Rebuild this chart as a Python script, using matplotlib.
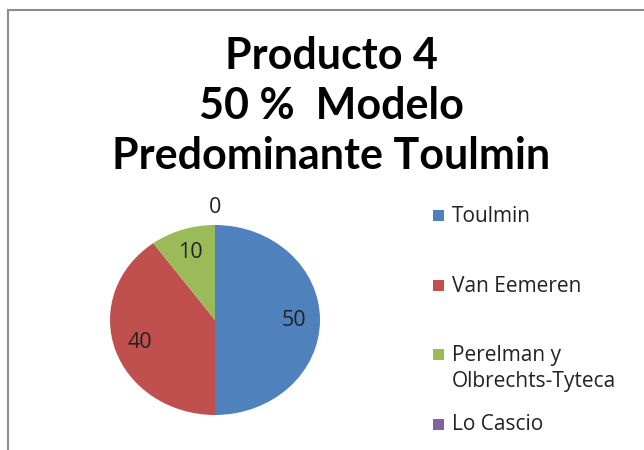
import numpy as np
import matplotlib
matplotlib.use("Agg")
import matplotlib.pyplot as plt
from matplotlib.patches import Rectangle
from matplotlib.lines import Line2D

# chart data
categories = ["Toulmin", "Van Eemeren", "Perelman y\nOlbrechts-Tyteca", "Lo Cascio"]
values = [50, 40, 10, 0]
colors = ["#4F81BD", "#C0504D", "#9BBB59", "#8064A2"]
title = "Producto 4\n50 %  Modelo\nPredominante Toulmin"

W, H = 644, 450
fig = plt.figure(figsize=(W / 100, H / 100), dpi=100)
plt.rcParams['font.family'] = ['Lato', 'DejaVu Sans']

# chart border (left and top visible)
fig.add_artist(Line2D([8 / W, 8 / W], [0, 1 - 10 / H], transform=fig.transFigure,
                      color="#8c8c8c", lw=1.5))
fig.add_artist(Line2D([8 / W, 1], [1 - 10 / H, 1 - 10 / H], transform=fig.transFigure,
                      color="#8c8c8c", lw=1.5))

fig.text(331 / W, 1 - 106 / H, title, ha="center", va="center", fontsize=31,
         fontweight="bold", linespacing=1.3)

# pie (slightly stretched like the original)
cx, cy, rx, ry = 215, 320, 105, 95
ax = fig.add_axes([(cx - rx) / W, 1 - (cy + ry) / H, 2 * rx / W, 2 * ry / H])
wedges, _ = ax.pie(values, colors=colors, startangle=90, counterclock=False,
                   wedgeprops=dict(linewidth=0))
ax.set_aspect("auto")
ax.set_xlim(-1, 1)
ax.set_ylim(-1, 1)
ax.axis("off")

for w, v in zip(wedges, values):
    ang = np.deg2rad((w.theta1 + w.theta2) / 2)
    r = 0.75 if v > 0 else 1.18
    ax.text(r * np.cos(ang), r * np.sin(ang), str(v), ha="center", va="center",
            fontsize=15.5, family="Open Sans", color="#222222", clip_on=False)

# legend
leg_y = [216, 286, 355, 425]
for lab, col, y in zip(categories, colors, leg_y):
    fig.add_artist(Rectangle((433 / W, 1 - (y + 5) / H), 11 / W, 11 / H,
                             transform=fig.transFigure, color=col, lw=0))
    fig.text(452 / W, 1 - (y - 10) / H if "\n" in lab else 1 - y / H, lab, ha="left",
             va="top" if "\n" in lab else "center", fontsize=15, family="Open Sans",
             color="#222222", linespacing=1.3)

fig.savefig("out.png", dpi=100)
